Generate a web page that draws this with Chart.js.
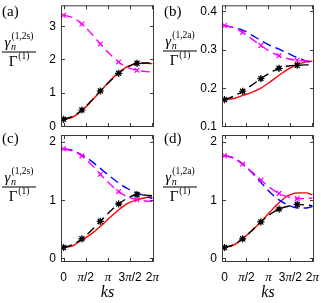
<!DOCTYPE html>
<html>
<head>
<meta charset="utf-8">
<script src="https://cdn.jsdelivr.net/npm/chart.js@4.4.0/dist/chart.umd.min.js"></script>
<style>
  body { margin: 0; background: #fff; width: 321px; height: 303px; position: relative; overflow: hidden; }
  canvas { position: absolute; left: 0; top: 0; }
</style>
</head>
<body>
<canvas id="pa" width="321" height="303"></canvas>
<canvas id="pb" width="321" height="303"></canvas>
<canvas id="pc" width="321" height="303"></canvas>
<canvas id="pd" width="321" height="303"></canvas>
<script>
// ks grid of the curves and of the symbols
const ksLine = [0, 0.65, 1.3, 1.95, 2.6, 3.25, 3.9, 4.55, 5.2, 5.85, 6.283];
const ksMark = [0, 1.3, 2.6, 3.9, 5.2];
const xTicks = [0, Math.PI / 2, Math.PI, 3 * Math.PI / 2, 2 * Math.PI];
const xTickLabels = ['0', 'π/2', 'π', '3π/2', '2π'];

// (a) gamma^(1,2s)
const aRed     = [0.20, 0.27, 0.46, 0.74, 1.04, 1.34, 1.60, 1.79, 1.87, 1.88, 1.87];
const aBlack   = [0.20, 0.29, 0.48, 0.75, 1.05, 1.33, 1.58, 1.77, 1.88, 1.89, 1.88];
const aMagenta = [3.32, 3.25, 3.06, 2.78, 2.46, 2.17, 1.92, 1.75, 1.67, 1.63, 1.62];
const aBlackMk   = [0.20, 0.48, 1.05, 1.58, 1.88];
const aMagentaMk = [3.32, 3.06, 2.46, 1.92, 1.67];
const aTicks = [0, 1, 2, 3];

// (b) gamma^(1,2a)
const bRed     = [0.169, 0.172, 0.180, 0.188, 0.199, 0.215, 0.233, 0.249, 0.261, 0.268, 0.270];
const bBlack   = [0.169, 0.178, 0.191, 0.207, 0.224, 0.239, 0.251, 0.257, 0.259, 0.260, 0.260];
const bBlue    = [0.363, 0.358, 0.351, 0.338, 0.324, 0.311, 0.301, 0.290, 0.279, 0.270, 0.265];
const bMagenta = [0.363, 0.357, 0.345, 0.328, 0.311, 0.295, 0.284, 0.276, 0.272, 0.270, 0.270];
const bBlackMk   = [0.169, 0.191, 0.224, 0.251, 0.259];
const bMagentaMk = [0.363, 0.345, 0.311, 0.284, 0.272];
const bTicks = [0.1, 0.2, 0.3, 0.4];

// (c) gamma^(1,2s)
const cRed     = [0.18, 0.21, 0.31, 0.41, 0.54, 0.69, 0.83, 0.94, 1.00, 1.04, 1.05];
const cBlack   = [0.18, 0.23, 0.33, 0.47, 0.63, 0.79, 0.93, 1.03, 1.09, 1.08, 1.07];
const cBlue    = [1.875, 1.85, 1.77, 1.67, 1.54, 1.41, 1.29, 1.19, 1.12, 1.06, 1.02];
const cMagenta = [1.875, 1.84, 1.755, 1.61, 1.44, 1.28, 1.14, 1.05, 1.00, 0.98, 0.97];
const cBlackMk   = [0.18, 0.33, 0.63, 0.93, 1.09];
const cMagentaMk = [1.875, 1.755, 1.44, 1.14, 1.00];
const cTicks = [0, 1, 2];

// (d) gamma^(1,2a)
const dRed     = [0.18, 0.22, 0.33, 0.47, 0.62, 0.79, 0.95, 1.07, 1.12, 1.12, 1.085];
const dBlack   = [0.18, 0.23, 0.33, 0.47, 0.62, 0.75, 0.84, 0.89, 0.92, 0.91, 0.90];
const dBlue    = [1.76, 1.72, 1.62, 1.47, 1.30, 1.13, 1.00, 0.91, 0.86, 0.86, 0.885];
const dMagenta = [1.76, 1.72, 1.61, 1.48, 1.34, 1.21, 1.11, 1.05, 1.02, 1.02, 1.03];
const dBlackMk   = [0.18, 0.33, 0.62, 0.84, 0.92];
const dMagentaMk = [1.76, 1.61, 1.34, 1.11, 1.02];
const dTicks = [0, 1, 2];

const SANS = '"Liberation Sans", Arial, sans-serif';
const SERIF = '"Liberation Serif", "Times New Roman", serif';

function pts(xs, ys) {
  return ys.map((v, i) => ({ x: xs[i], y: v }));
}

function curve(ys, color, dash, order) {
  return {
    data: pts(ksLine, ys), borderColor: color, borderWidth: 1.4, borderDash: dash,
    pointRadius: 0, cubicInterpolationMode: 'monotone', fill: false, order: order
  };
}

function symbols(ys, color, style, r, bw, order) {
  return {
    data: pts(ksMark, ys), showLine: false, pointStyle: style, pointRadius: r,
    pointBorderWidth: bw, pointBackgroundColor: color, pointBorderColor: color, order: order
  };
}

function drawXLabel(ctx, cx, cy, s) {
  const parts = s.split('').map(ch => ({
    t: ch, f: ch === 'π' ? 'italic 13px ' + SERIF : '12px ' + SANS
  }));
  let w = 0;
  parts.forEach(p => { ctx.font = p.f; p.w = ctx.measureText(p.t).width; w += p.w; });
  let x = cx - w / 2;
  ctx.textAlign = 'left';
  ctx.textBaseline = 'middle';
  parts.forEach(p => { ctx.font = p.f; ctx.fillText(p.t, x, cy); x += p.w; });
}

function drawFrac(ctx, cx, by, sup) {
  ctx.textBaseline = 'alphabetic';
  ctx.textAlign = 'left';
  const fBig = 'italic 15px ' + SERIF, fSub = 'italic 10px ' + SERIF, fSup = '9.5px ' + SERIF;
  ctx.font = fBig; const wg = ctx.measureText('γ').width;
  ctx.font = fSub; const wn = ctx.measureText('n').width;
  ctx.font = fSup; const ws = ctx.measureText(sup).width;
  const wNum = wg + 1 + Math.max(wn, ws);
  let x = cx - wNum / 2;
  ctx.font = fBig; ctx.fillText('γ', x, by - 5);
  ctx.font = fSub; ctx.fillText('n', x + wg + 0.5, by - 2);
  ctx.font = fSup; ctx.fillText(sup, x + wg + 1, by - 13);
  // bar
  ctx.fillRect(cx - 17, by - 0.5, 34, 1);
  const fG = '15px ' + SERIF;
  ctx.font = fG; const wG = ctx.measureText('Γ').width;
  ctx.font = fSup; const w1 = ctx.measureText('(1)').width;
  x = cx - (wG + 1 + w1) / 2;
  ctx.font = fG; ctx.fillText('Γ', x, by + 14);
  ctx.font = fSup; ctx.fillText('(1)', x + wG + 1, by + 7);
}

const axesPlugin = {
  id: 'axesPlugin',
  afterDraw(chart) {
    const o = chart.options.plugins.axesPlugin;
    const { ctx, chartArea: a } = chart;
    const sx = chart.scales.x, sy = chart.scales.y;
    ctx.save();
    ctx.strokeStyle = '#3a3a3a';
    ctx.lineWidth = 1;
    ctx.strokeRect(a.left + 0.5, a.top + 0.5, a.right - a.left - 1, a.bottom - a.top - 1);
    ctx.beginPath();
    xTicks.forEach(v => {
      const px = Math.round(sx.getPixelForValue(v)) + 0.5;
      ctx.moveTo(px, a.bottom); ctx.lineTo(px, a.bottom - 4);
      ctx.moveTo(px, a.top); ctx.lineTo(px, a.top + 4);
    });
    o.yTicks.forEach(v => {
      const py = Math.round(sy.getPixelForValue(v)) + 0.5;
      ctx.moveTo(a.left, py); ctx.lineTo(a.left + 4, py);
      ctx.moveTo(a.right, py); ctx.lineTo(a.right - 4, py);
    });
    ctx.stroke();

    ctx.fillStyle = '#000';
    ctx.font = '12px ' + SANS;
    ctx.textAlign = 'right';
    ctx.textBaseline = 'middle';
    o.yTicks.forEach(v => {
      ctx.fillText(String(v), a.left - 5, sy.getPixelForValue(v) + 0.5);
    });

    if (o.xLabels) {
      xTickLabels.forEach((s, i) => drawXLabel(ctx, sx.getPixelForValue(xTicks[i]), a.bottom + 16, s));
      ctx.font = 'italic 16px ' + SERIF;
      ctx.textAlign = 'center';
      ctx.textBaseline = 'middle';
      ctx.fillText('ks', (a.left + a.right) / 2, a.bottom + 31);
    }

    ctx.font = '15px ' + SERIF;
    ctx.textAlign = 'left';
    ctx.textBaseline = 'alphabetic';
    ctx.fillText(o.letter, o.letterX, o.letterY);

    drawFrac(ctx, o.fracX, o.fracY, o.sup);
    ctx.restore();
  }
};

function panel(id, pad, yMin, yMax, sets, opts) {
  new Chart(document.getElementById(id), {
    type: 'line',
    data: { datasets: sets },
    options: {
      responsive: false,
      animation: false,
      events: [],
      layout: { padding: pad },
      scales: {
        x: { type: 'linear', min: -0.18, max: 6.40, display: false },
        y: { type: 'linear', min: yMin, max: yMax, display: false }
      },
      plugins: { legend: { display: false }, tooltip: { enabled: false }, axesPlugin: opts }
    },
    plugins: [axesPlugin]
  });
}

function sets(red, black, blue, magenta, blackMk, magentaMk) {
  const s = [
    symbols(blackMk, '#000', 'star', 3.6, 1.2, 0),
    symbols(blackMk, '#000', 'circle', 2.2, 0, 0),
    symbols(magentaMk, '#ff00ff', 'crossRot', 3.3, 1.3, 1),
    curve(magenta, '#ff00ff', [9, 5], 2),
    curve(black, '#000', [9, 5], 3),
    curve(red, '#ff0000', [], 5)
  ];
  if (blue) s.push(curve(blue, '#0000ff', [9, 5], 4));
  return s;
}

panel('pa', { left: 61, right: 167, top: 3, bottom: 176 }, -0.03, 3.62,
  sets(aRed, aBlack, null, aMagenta, aBlackMk, aMagentaMk),
  { yTicks: aTicks, xLabels: false, letter: '(a)', letterX: 2, letterY: 16, fracX: 19, fracY: 52, sup: '(1,2s)' });

panel('pb', { left: 222, right: 7, top: 3, bottom: 176 }, 0.0974, 0.416,
  sets(bRed, bBlack, bBlue, bMagenta, bBlackMk, bMagentaMk),
  { yTicks: bTicks, xLabels: false, letter: '(b)', letterX: 164, letterY: 16, fracX: 180, fracY: 51, sup: '(1,2a)' });

panel('pc', { left: 61, right: 167, top: 135, bottom: 41 }, -0.069, 2.114,
  sets(cRed, cBlack, cBlue, cMagenta, cBlackMk, cMagentaMk),
  { yTicks: cTicks, xLabels: true, letter: '(c)', letterX: 2, letterY: 143, fracX: 19, fracY: 187, sup: '(1,2s)' });

panel('pd', { left: 222, right: 7, top: 135, bottom: 41 }, -0.069, 2.114,
  sets(dRed, dBlack, dBlue, dMagenta, dBlackMk, dMagentaMk),
  { yTicks: dTicks, xLabels: true, letter: '(d)', letterX: 164, letterY: 143, fracX: 180, fracY: 187, sup: '(1,2a)' });
</script>
</body>
</html>
